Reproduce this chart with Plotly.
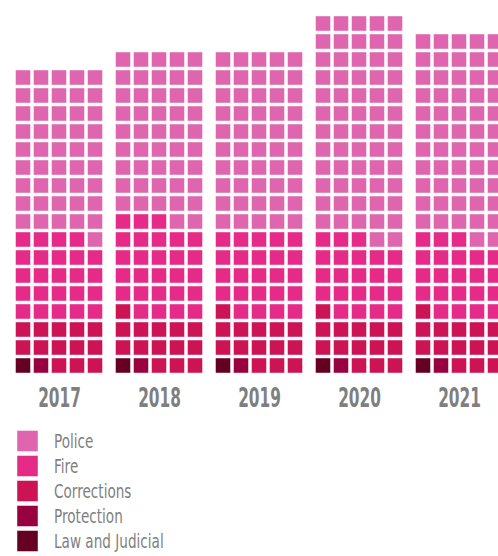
import plotly.graph_objects as go

# Public-safety headcount by year, in units (one square = one unit)
years = ["2017", "2018", "2019", "2020", "2021"]
categories = ["Police", "Fire", "Corrections", "Protection", "Law and Judicial"]
law_judicial = [1, 1, 1, 1, 1]
protection = [1, 1, 1, 1, 1]
corrections = [13, 14, 14, 14, 14]
fire = [24, 27, 24, 22, 22]
police = [46, 47, 50, 62, 57]

colors = {
    "Police": "#DF66AE",
    "Fire": "#E62A88",
    "Corrections": "#CC1354",
    "Protection": "#990040",
    "Law and Judicial": "#650022",
}

# stacking order, bottom of each waffle first
stack = [
    ("Law and Judicial", law_judicial),
    ("Protection", protection),
    ("Corrections", corrections),
    ("Fire", fire),
    ("Police", police),
]

COLS = 5
PITCH = 18.0       # cell pitch in px
GROUP = 100.0      # distance between year blocks
X0 = 23.0          # centre of first cell
Y0 = 365.5         # centre of bottom row
LABEL_FONT = "DejaVu Sans, sans-serif"

fig = go.Figure()

xs = {name: [] for name, _ in stack}
ys = {name: [] for name, _ in stack}
for g in range(len(years)):
    idx = 0
    for name, vals in stack:
        for _ in range(vals[g]):
            r, c = divmod(idx, COLS)
            xs[name].append(X0 + g * GROUP + c * PITCH)
            ys[name].append(Y0 - r * PITCH)
            idx += 1

for name, _ in stack:
    fig.add_trace(go.Scatter(
        x=xs[name], y=ys[name], mode="markers", name=name,
        marker=dict(symbol="square", size=15, color=colors[name],
                    line=dict(color="rgba(255,255,255,0.45)", width=1)),
        hoverinfo="skip", showlegend=False,
    ))

# year labels under each block
for g, yr in enumerate(years):
    fig.add_annotation(
        x=X0 + g * GROUP + 2 * PITCH, y=397, text="<b>%s</b>" % yr,
        showarrow=False, xanchor="center", yanchor="middle",
        font=dict(family=LABEL_FONT, size=27, color="#7F7F7F"),
        name="year",
    )

# legend: swatches plus labels
leg_y = [441 + 25 * i for i in range(len(categories))]
fig.add_trace(go.Scatter(
    x=[27.5] * len(categories), y=leg_y, mode="markers",
    marker=dict(symbol="square", size=21, color=[colors[c] for c in categories],
                line=dict(color="rgba(255,255,255,0.45)", width=1)),
    hoverinfo="skip", showlegend=False,
))
for cat, yy in zip(categories, leg_y):
    fig.add_annotation(
        x=52, y=yy, text=cat, showarrow=False, xanchor="left", yanchor="middle",
        font=dict(family=LABEL_FONT, size=20, color="#7F7F7F"),
        name="legend",
    )

fig.update_layout(
    width=498, height=556,
    margin=dict(l=0, r=0, t=0, b=0),
    paper_bgcolor="white", plot_bgcolor="white",
    xaxis=dict(range=[0, 498], visible=False, fixedrange=True),
    yaxis=dict(range=[556, 0], visible=False, fixedrange=True),
)

# narrow the label lettering horizontally (condensed display face)
squeeze_js = """
var gd = document.getElementById('{plot_id}');
function squeeze() {
  gd.querySelectorAll('.annotation-text').forEach(function (t) {
    var isYear = /^\\s*\\d{4}\\s*$/.test(t.textContent);
    t.style.transformBox = 'fill-box';
    t.style.transformOrigin = isYear ? 'center center' : 'left center';
    t.style.transform = isYear ? 'scaleX(0.57)' : 'scaleX(0.68)';
  });
}
squeeze();
gd.on('plotly_afterplot', squeeze);
"""

fig.write_html("out.html", post_script=squeeze_js)
